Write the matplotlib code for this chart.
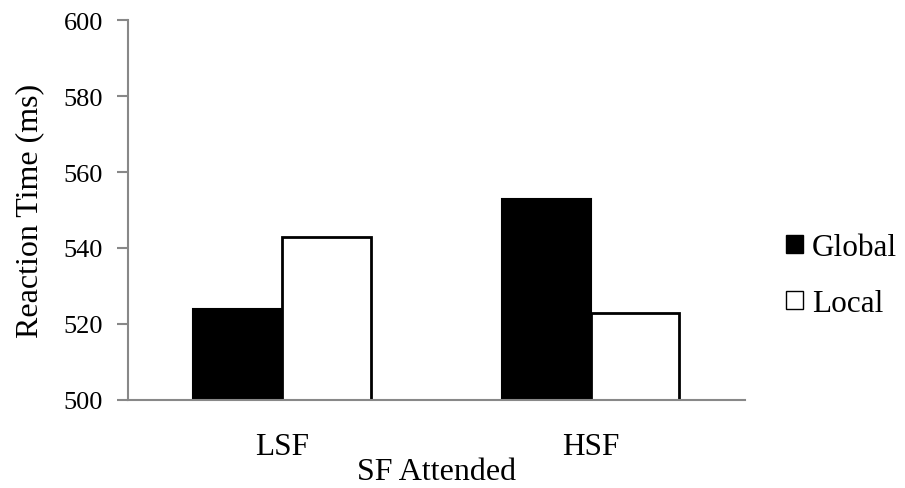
import numpy as np
import matplotlib.pyplot as plt
from matplotlib.patches import Patch

categories = ['LSF', 'HSF']
series_names = ['Global', 'Local']
global_rt = [524, 553]
local_rt = [543, 523]
yticks = [500, 520, 540, 560, 580, 600]

plt.rcParams['font.family'] = ['Liberation Serif', 'DejaVu Serif']

fig = plt.figure(figsize=(9.05, 4.89), dpi=100)
ax = fig.add_axes([0.1414, 0.18, 0.6816, 0.777])

x = np.arange(len(categories))
w = 0.288
ax.bar(x - w / 2, global_rt, width=w, color='black', edgecolor='black', linewidth=1.5)
ax.bar(x + w / 2, local_rt, width=w, color='white', edgecolor='black', linewidth=2)

ax.set_xlim(-0.5, 1.5)
ax.set_ylim(500, 600)
ax.set_yticks(yticks)
ax.set_xticks(x)
ax.set_xticklabels(categories, fontsize=22.5)
ax.tick_params(axis='x', length=0, pad=23)
ax.tick_params(axis='y', length=8, width=1.5, color='#888888', labelsize=19, pad=10)

for s in ['top', 'right']:
    ax.spines[s].set_visible(False)
for s in ['left', 'bottom']:
    ax.spines[s].set_color('#888888')
    ax.spines[s].set_linewidth(1.5)

ax.set_ylabel('Reaction Time (ms)', fontsize=23, labelpad=14)
ax.set_xlabel('SF Attended', fontsize=23, labelpad=-3)

handles = [Patch(facecolor='black', edgecolor='black'),
           Patch(facecolor='white', edgecolor='black', linewidth=1)]
fig.legend(handles, series_names, loc='center left', bbox_to_anchor=(0.837, 0.434),
           frameon=False, fontsize=22.5, handlelength=0.55, handleheight=0.5,
           handletextpad=0.3, labelspacing=0.85)

fig.savefig('out.png', dpi=100)
